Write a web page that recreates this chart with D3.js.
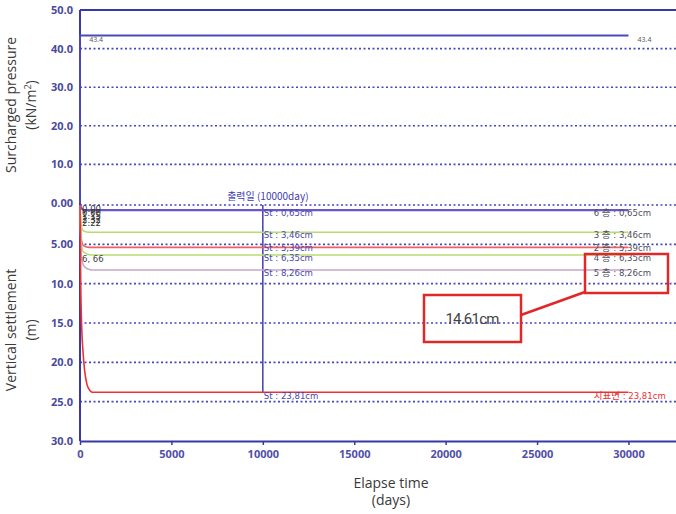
<!DOCTYPE html>
<html>
<head>
<meta charset="utf-8">
<script src="https://cdn.jsdelivr.net/npm/d3@7.9.0/dist/d3.min.js"></script>
<style>
  body { margin: 0; background: #fff; }
  svg { display: block; font-family: "Open Sans", "Noto Sans", sans-serif; }
  .tick-lbl { font-weight: 700; fill: #4a4a9e; font-size: 11px; }
  .axis-title { fill: #3a3a3a; font-size: 14px; }
  .small { font-family: "Liberation Sans Narrow", "DejaVu Sans Condensed", "Noto Sans CJK KR", sans-serif; font-size: 9.5px; }
</style>
</head>
<body>
<div id="chart"></div>
<script>
// ---- data ----
const pressureTicks = [50, 40, 30, 20, 10];
const pressureTickLabels = ["50.0", "40.0", "30.0", "20.0", "10.0"];
const pressureTime = [0, 0, 30000];
const pressureValue = [0, 43.4, 43.4];

const settleTicks = [0, 5, 10, 15, 20, 25, 30];
const settleTickLabels = ["0.00", "5.00", "10.0", "15.0", "20.0", "25.0", "30.0"];
const timeTicks = [0, 5000, 10000, 15000, 20000, 25000, 30000];

const layerNames = ["6 층", "3 층", "2 층", "4 층", "5 층", "지표면"];
const layerFinal = [0.65, 3.46, 5.39, 6.35, 8.26, 23.81];
const layerColors = ["#6a58c8", "#b8dc70", "#f06060", "#b8dc70", "#c8a8cc", "#f03030"];
// settlement curves (days, cm)
const layerTimes = [
  [0, 80, 250, 30000],
  [0, 60, 200, 500, 30000],
  [0, 60, 200, 500, 30000],
  [0, 60, 200, 600, 30000],
  [0, 80, 200, 400, 700, 30000],
  [0, 40, 100, 160, 250, 380, 550, 700, 30000]
];
const layerValues = [
  [0, 0.45, 0.65, 0.65],
  [0, 2.6, 3.3, 3.46, 3.46],
  [0, 4.2, 5.2, 5.39, 5.39],
  [0, 4.8, 6.0, 6.35, 6.35],
  [0, 6.6, 7.7, 8.1, 8.26, 8.26],
  [0, 10, 16, 18.5, 21, 22.8, 23.6, 23.81, 23.81]
];
const startLabels = ["0.00", "0.00", "1.15", "2.32", "2.22"];
const outputDay = 10000;
const highlightText = "14.61cm";

// ---- layout ----
const W = 676, H = 514;
const x0 = 80, x1 = 676;
const svg = d3.select("#chart").append("svg").attr("width", W).attr("height", H);

const x = d3.scaleLinear().domain([0, 32600]).range([x0, x1]);
const yP = d3.scaleLinear().domain([0, 50]).range([203, 10]);
const yS = d3.scaleLinear().domain([0, 30]).range([205, 441]);

const axisBlue = "#3838a8";
const gridBlue = "#4646c0";

// grid lines (dotted)
function grid(scale, ticks) {
  svg.append("g").selectAll("line")
    .data(ticks)
    .join("line")
      .attr("x1", x0).attr("x2", x1)
      .attr("y1", d => scale(d)).attr("y2", d => scale(d))
      .attr("stroke", gridBlue)
      .attr("stroke-width", 1.6)
      .attr("stroke-dasharray", "2 2.5");
}
grid(yP, pressureTicks.filter(d => d !== 50));
grid(yS, settleTicks.filter(d => d !== 30));

// top border
svg.append("line").attr("x1", x0).attr("x2", x1).attr("y1", yP(50)).attr("y2", yP(50))
  .attr("stroke", axisBlue).attr("stroke-width", 2);

// y tick labels
svg.append("g").selectAll("text")
  .data(pressureTicks)
  .join("text")
    .attr("class", "tick-lbl")
    .attr("x", 73).attr("y", d => yP(d) + 4)
    .attr("text-anchor", "end")
    .text((d, i) => pressureTickLabels[i]);

svg.append("g").selectAll("text")
  .data(settleTicks)
  .join("text")
    .attr("class", "tick-lbl")
    .attr("x", 73).attr("y", d => yS(d) + 4 - (d === 0 ? 2 : 0))
    .attr("text-anchor", "end")
    .text((d, i) => settleTickLabels[i]);

// x axis
const xAxis = svg.append("g")
  .attr("transform", `translate(0, ${yS(30)})`)
  .call(d3.axisBottom(x).tickValues(timeTicks).tickSize(4).tickSizeOuter(0).tickFormat(d3.format("d")));
xAxis.select(".domain").attr("stroke", axisBlue).attr("stroke-width", 2);
xAxis.selectAll(".tick line").attr("stroke", axisBlue).attr("stroke-width", 1.5);
xAxis.selectAll(".tick text")
  .attr("fill", "#5050a8").attr("font-size", 11).attr("font-weight", 700)
  .attr("font-family", "Open Sans, sans-serif").attr("dy", "0.9em");

// left axis line
svg.append("line").attr("x1", x0).attr("x2", x0).attr("y1", yP(50)).attr("y2", yS(30))
  .attr("stroke", axisBlue).attr("stroke-width", 2);

// pressure line
const pLine = d3.line().x(d => x(d[0])).y(d => yP(d[1]));
svg.append("path")
  .datum(pressureTime.map((t, i) => [t, pressureValue[i]]))
  .attr("d", pLine)
  .attr("fill", "none").attr("stroke", "#4a4ab8").attr("stroke-width", 1.8);
svg.append("text").attr("x", x(500)).attr("y", yP(43.4) + 7).attr("fill", "#555").attr("font-size", 7).text("43.4");
svg.append("text").attr("x", x(30500)).attr("y", yP(43.4) + 7).attr("fill", "#555").attr("font-size", 7).text("43.4");

// output day vertical line
svg.append("line")
  .attr("x1", x(outputDay)).attr("x2", x(outputDay))
  .attr("y1", yS(0)).attr("y2", yS(layerFinal[5]))
  .attr("stroke", "#4040b0").attr("stroke-width", 1.5);
svg.append("text")
  .attr("x", x(outputDay) + 5).attr("y", 200)
  .attr("text-anchor", "middle").attr("fill", "#4040b0").attr("font-size", 10)
  .attr("font-family", "Noto Sans CJK KR, sans-serif")
  .text("출력일 (10000day)");

// settlement curves
const sLine = d3.line().x(d => x(d[0])).y(d => yS(d[1])).curve(d3.curveMonotoneX);
layerNames.forEach((name, i) => {
  svg.append("path")
    .datum(layerTimes[i].map((t, j) => [t, layerValues[i][j]]))
    .attr("d", sLine)
    .attr("fill", "none")
    .attr("stroke", layerColors[i])
    .attr("stroke-width", i === 0 ? 2.2 : 1.6);
});

const fmt = v => d3.format(".2f")(v).replace(".", ",");
const stOffsets = [6, 6, 4, 6, 6, 7];

// St labels at output day
layerFinal.forEach((v, i) => {
  svg.append("text")
    .attr("class", "small")
    .attr("x", x(outputDay) + 1).attr("y", yS(v) + stOffsets[i])
    .attr("fill", "#4848b0")
    .text(`St : ${fmt(v)}cm`);
});

// right-side legend labels
layerFinal.forEach((v, i) => {
  svg.append("text")
    .attr("class", "small")
    .attr("x", x(28100)).attr("y", yS(v) + stOffsets[i])
    .attr("fill", i === 5 ? "#f03030" : "#505060")
    .text(`${layerNames[i]} : ${fmt(v)}cm`);
});

// start labels (stacked near t = 0)
startLabels.forEach((s, i) => {
  svg.append("text").attr("class", "small")
    .attr("x", x0 + 2).attr("y", yS(0) + 7 + i * 3.6)
    .attr("font-size", 8)
    .attr("fill", "#333").text(s);
});
svg.append("text").attr("class", "small")
  .attr("x", x0 + 2).attr("y", yS(7.3))
  .attr("fill", "#444").attr("font-size", 10.5).text("6, 66");

// highlight annotation
const red = "#e02828";
svg.append("rect").attr("x", 585).attr("y", 254).attr("width", 83).attr("height", 39)
  .attr("fill", "none").attr("stroke", red).attr("stroke-width", 2.5);
svg.append("rect").attr("x", 424).attr("y", 295).attr("width", 97).attr("height", 47)
  .attr("fill", "none").attr("stroke", red).attr("stroke-width", 2.5);
svg.append("line").attr("x1", 521).attr("y1", 315).attr("x2", 585).attr("y2", 292)
  .attr("stroke", red).attr("stroke-width", 2.5);
svg.append("text").attr("x", 472).attr("y", 324).attr("text-anchor", "middle")
  .attr("fill", "#444").attr("font-size", 15).attr("font-family", "Roboto, sans-serif")
  .attr("letter-spacing", -0.8).text(highlightText);

// axis titles
svg.append("text").attr("class", "axis-title")
  .attr("transform", "translate(16, 105) rotate(-90)").attr("text-anchor", "middle")
  .text("Surcharged pressure");
svg.append("text").attr("class", "axis-title")
  .attr("transform", "translate(36, 105) rotate(-90)").attr("text-anchor", "middle")
  .html("(kN/m<tspan dy='-5' font-size='9'>2</tspan><tspan dy='5'>)</tspan>");
svg.append("text").attr("class", "axis-title")
  .attr("transform", "translate(16, 330) rotate(-90)").attr("text-anchor", "middle")
  .text("Vertical settlement");
svg.append("text").attr("class", "axis-title")
  .attr("transform", "translate(36, 330) rotate(-90)").attr("text-anchor", "middle")
  .text("(m)");
svg.append("text").attr("class", "axis-title")
  .attr("x", 391).attr("y", 488).attr("text-anchor", "middle").text("Elapse time");
svg.append("text").attr("class", "axis-title")
  .attr("x", 391).attr("y", 505).attr("text-anchor", "middle").text("(days)");
</script>
</body>
</html>
